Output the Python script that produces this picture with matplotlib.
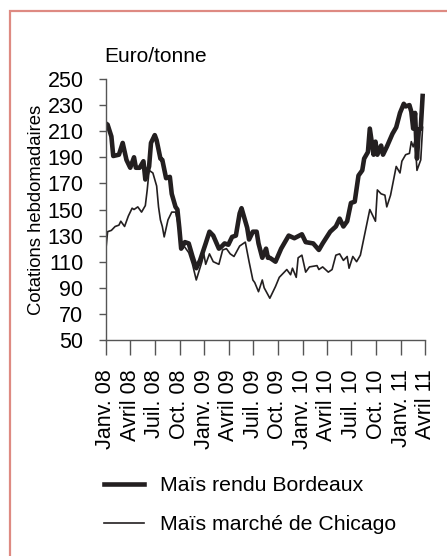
import pandas as pd
import matplotlib
matplotlib.use("Agg")
from matplotlib import pyplot as plt
from matplotlib.patches import Rectangle


# ---------------------------------------------------------
# semaines depuis le 1er janvier 2008, prix en euro/tonne

semaines_bordeaux = [0, 1, 3, 4, 7, 9, 11, 13, 15, 16, 18, 20, 21, 23, 24, 26, 27, 29, 30, 32,
                     34, 35, 37, 38, 39, 40, 42, 44, 46, 48, 50, 53, 55, 57, 60, 61, 63, 65, 67, 69,
                     71, 72, 73, 75, 76, 78, 80, 81, 83, 85, 86, 87, 90, 93, 97, 100, 104, 106, 110, 113,
                     115, 119, 122, 124, 126, 128, 130, 132, 134, 136, 137, 139, 140, 142, 143, 144, 146, 147, 149, 152,
                     154, 156, 158, 159, 161, 162, 163, 164, 165, 166, 167, 168]
prix_bordeaux = [216, 215, 206, 191, 192, 201, 188, 182, 190, 182, 182, 187, 173, 183, 201, 207, 203, 189, 188, 174,
                 175, 162, 152, 150, 136, 120, 125, 124, 114, 105, 111, 124, 133, 130, 120, 121, 124, 123, 129, 130,
                 147, 151, 146, 136, 127, 133, 133, 124, 113, 120, 113, 113, 110, 120, 130, 128, 131, 125, 124, 119,
                 124, 133, 137, 143, 137, 141, 155, 156, 176, 180, 189, 194, 212, 192, 202, 192, 199, 192, 198, 208,
                 213, 224, 231, 229, 230, 225, 212, 224, 189, 211, 212, 237]

semaines_chicago = [0, 1, 3, 5, 7, 8, 10, 12, 14, 15, 17, 19, 21, 22, 23, 25, 27, 28, 29, 30,
                    31, 33, 35, 37, 38, 40, 42, 44, 46, 48, 51, 52, 53, 55, 57, 60, 62, 64, 66, 68,
                    71, 74, 76, 78, 79, 81, 83, 84, 87, 90, 92, 94, 96, 98, 99, 101, 102, 104, 106, 108,
                    112, 113, 115, 118, 120, 122, 124, 126, 128, 129, 131, 133, 135, 137, 140, 143, 144, 146, 148, 149,
                    151, 154, 156, 157, 159, 161, 162, 163, 164, 165, 167, 168]
prix_chicago = [118, 133, 134, 137, 138, 141, 137, 145, 151, 150, 152, 148, 153, 165, 180, 178, 168, 152, 142, 137,
                129, 142, 148, 148, 142, 124, 121, 117, 108, 96, 110, 116, 108, 116, 110, 108, 119, 120, 116, 114,
                122, 125, 110, 96, 94, 87, 96, 90, 82, 91, 98, 101, 104, 100, 105, 98, 113, 115, 102, 106,
                107, 104, 106, 102, 104, 115, 116, 111, 114, 105, 114, 110, 115, 129, 150, 141, 165, 162, 161, 152,
                161, 183, 178, 187, 192, 193, 202, 198, 203, 180, 188, 213]

debut = pd.Timestamp("2008-01-01")
trimestres = pd.date_range("2008-01-01", "2011-04-01", freq="QS")
etiquettes = ["Janv. 08", "Avril 08", "Juil. 08", "Oct. 08",
              "Janv. 09", "Avril 09", "Juil. 09", "Oct. 09",
              "Janv. 10", "Avril 10", "Juil. 10", "Oct. 10",
              "Janv. 11", "Avril 11"]

plt.rcParams['font.family'] = ['Liberation Sans', 'DejaVu Sans']
couleur = '#231f20'

dates_bdx = debut + pd.to_timedelta([7 * s for s in semaines_bordeaux], unit='D')
dates_chi = debut + pd.to_timedelta([7 * s for s in semaines_chicago], unit='D')

fig = plt.figure(figsize=(4.47, 5.56), dpi=100)
ax = fig.add_axes([0.2365, 0.3885, 0.715, 0.4694])

ax.plot(dates_bdx, prix_bordeaux, color=couleur, lw=3.3, solid_joinstyle='round',
        label='Maïs rendu Bordeaux')
ax.plot(dates_chi, prix_chicago, color=couleur, lw=1.2, label='Maïs marché de Chicago')

ax.set_xlim(trimestres[0], trimestres[-1])
ax.set_ylim(50, 250)
ax.set_yticks(range(50, 251, 20))
ax.set_xticks(trimestres)
ax.set_xticklabels(etiquettes, rotation=90)

for side in ['top', 'right']:
    ax.spines[side].set_visible(False)
for side in ['left', 'bottom']:
    ax.spines[side].set_color('#555555')
    ax.spines[side].set_linewidth(1.0)

ax.tick_params(axis='x', direction='out', length=11, width=1.0, color='#555555',
               labelsize=15.5, pad=10)
ax.tick_params(axis='y', direction='out', length=5, width=1.0, color='#555555',
               labelsize=15.5, pad=11)

ax.set_ylabel('Cotations hebdomadaires', fontsize=13.3)
ax.yaxis.set_label_coords(-0.19, 0.5)

fig.text(0.2327, 0.8975, 'Euro/tonne', fontsize=15, va='center', ha='left')

fig.legend(loc='upper left', bbox_to_anchor=(0.232, 0.143), frameon=False,
           fontsize=15.3, handlelength=1.9, handletextpad=0.75, labelspacing=0.92,
           borderpad=0, borderaxespad=0)

# cadre
fig.add_artist(Rectangle((10 / 447, -0.05), 1.2, 1 - 11 / 556 + 0.05, transform=fig.transFigure,
                         fill=False, edgecolor='#de8a82', lw=1.6))

fig.savefig('out.png', dpi=100)
